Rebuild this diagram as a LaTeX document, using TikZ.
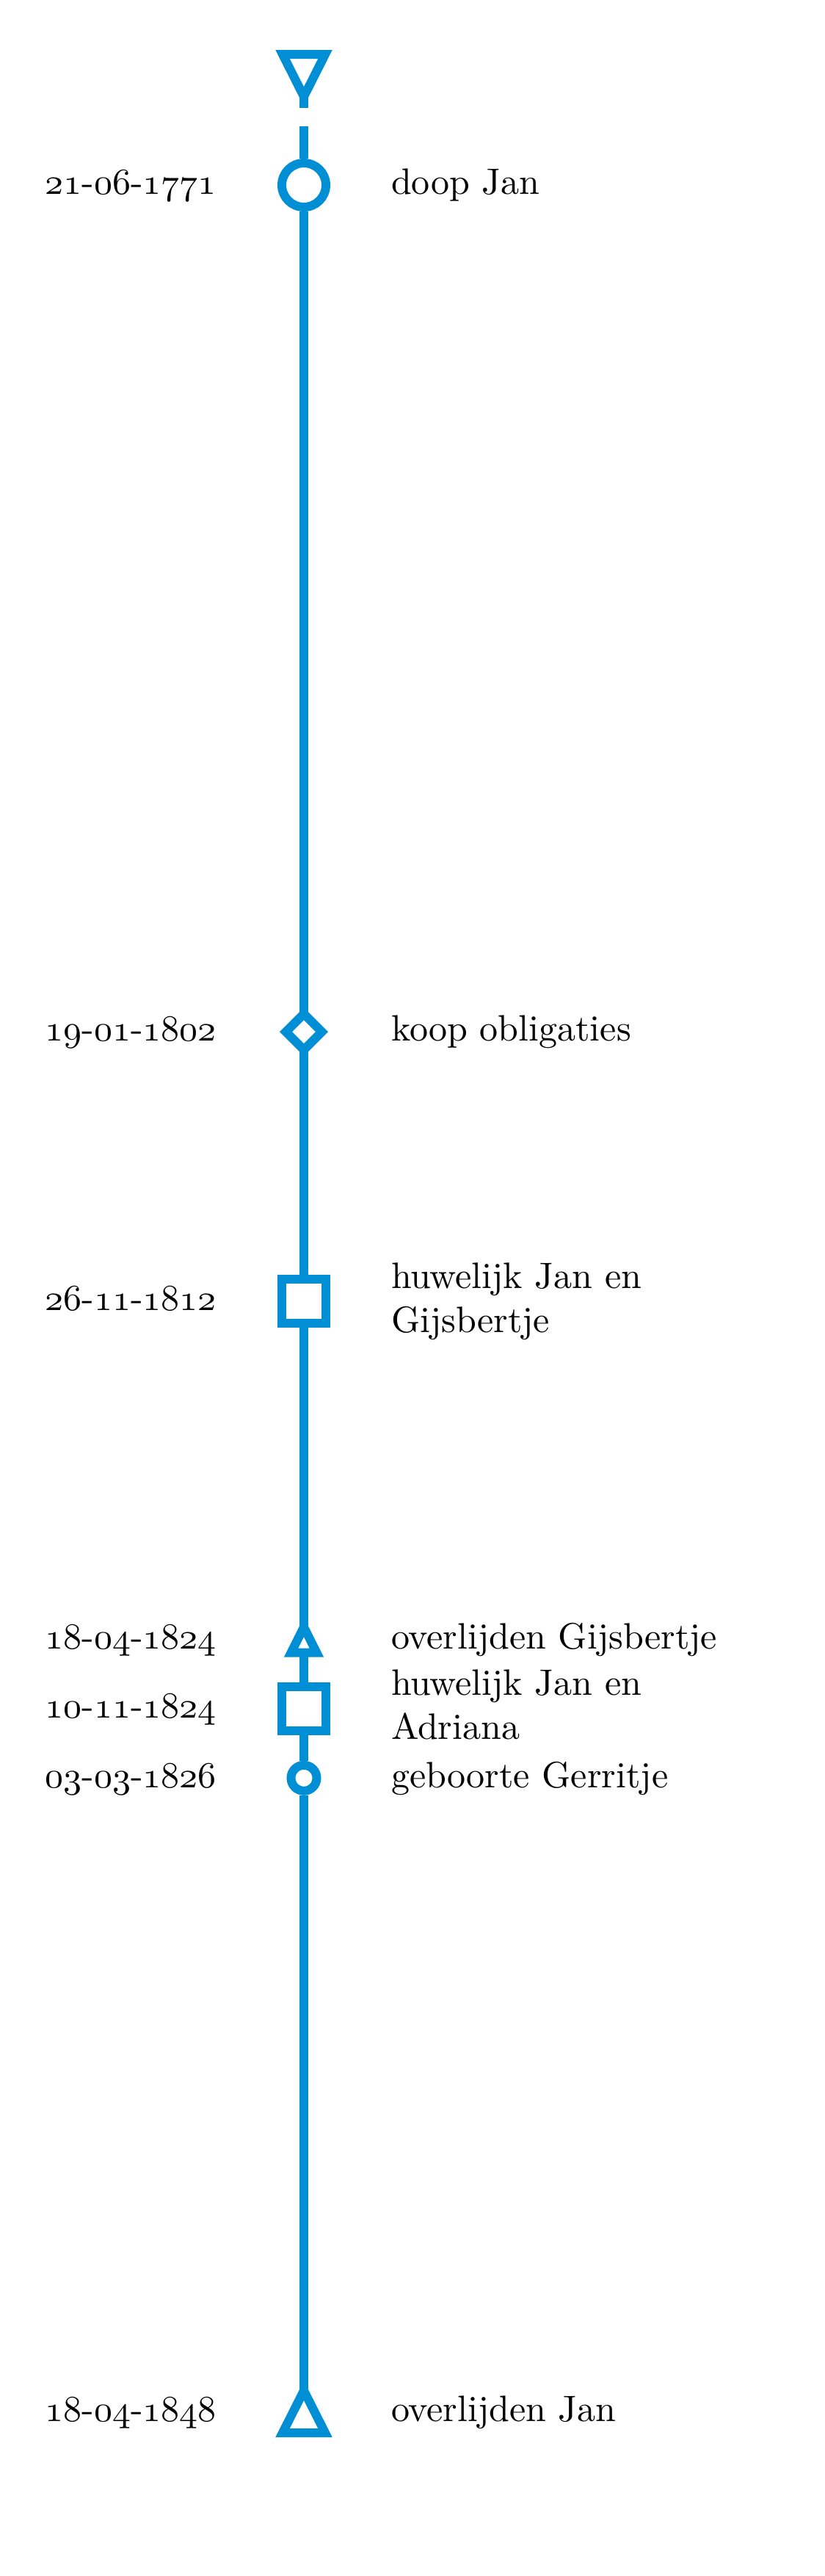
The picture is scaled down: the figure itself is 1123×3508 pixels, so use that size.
\documentclass[tikz,border=0pt]{standalone}
\usetikzlibrary{shapes.geometric}
\definecolor{tlblue}{RGB}{0,143,213}
\DeclareFontFamily{OML}{osnum}{\skewchar\font127 }
\DeclareFontShape{OML}{osnum}{m}{it}{<->cmmi10}{}
\newcommand\osn[1]{{\usefont{OML}{osnum}{m}{it}#1}}
\tikzset{
  tl/.style={draw=tlblue, line width=2.4pt, line cap=butt},
  evt/.style={tl, fill=white, inner sep=0pt},
  datelbl/.style={anchor=base east, inner sep=0pt, text=black},
  evtlbl/.style={anchor=base west, inner sep=0pt, align=left, text=black}
}
\begin{document}
\begin{tikzpicture}[x=0.2pt, y=-0.2pt]
\useasboundingbox (0,0) rectangle (1123,3508);
% top marker
\draw[tl, fill=white] (385,74) -- (443,74) -- (414,131.5) -- cycle;
\coordinate (t1apex) at (414,131.5);
\coordinate (t1stem) at (414,147);
\coordinate (s0) at (414,172);
% event marks
\node[evt, circle, minimum size=12pt] (c1) at (414,252) {};
\draw[tl, fill=white] (414,1380.5) -- (438.5,1405) -- (414,1429.5) -- (389.5,1405) -- cycle;
\coordinate (dmtop) at (414,1380.5);
\coordinate (dmbot) at (414,1429.5);
\node[evt, rectangle, minimum size=12pt] (sq1) at (414,1771.5) {};
\draw[tl, fill=white] (414,2215.7) -- (431.5,2250.7) -- (396.5,2250.7) -- cycle;
\coordinate (t2apex) at (414,2215.7);
\coordinate (t2base) at (414,2250.7);
\node[evt, rectangle, minimum size=12pt] (sq2) at (414,2327) {};
\node[evt, circle, minimum size=7pt] (c2) at (414,2421.3) {};
\draw[tl, fill=white] (414,3255.5) -- (443,3313) -- (385,3313) -- cycle;
\coordinate (t3apex) at (414,3255.5);
% connectors
\draw[tl] (t1apex) -- (t1stem);
\draw[tl] (s0) -- (c1);
\draw[tl] (c1) -- (dmtop);
\draw[tl] (dmbot) -- (sq1);
\draw[tl] (sq1) -- (t2apex);
\draw[tl] (t2base) -- (sq2);
\draw[tl] (sq2) -- (c2);
\draw[tl] (c2) -- (t3apex);
% dates
\node[datelbl] (d1) at (296,264.5) {\osn{21}-\osn{06}-\osn{1771}};
\node[datelbl] (d2) at (296,1417.5) {\osn{19}-\osn{01}-\osn{1802}};
\node[datelbl] (d3) at (296,1784) {\osn{26}-\osn{11}-\osn{1812}};
\node[datelbl] (d4) at (296,2245.7) {\osn{18}-\osn{04}-\osn{1824}};
\node[datelbl] (d5) at (296,2339.3) {\osn{10}-\osn{11}-\osn{1824}};
\node[datelbl] (d6) at (296,2434) {\osn{03}-\osn{03}-\osn{1826}};
\node[datelbl] (d7) at (296,3297) {\osn{18}-\osn{04}-\osn{1848}};
% labels
\node[evtlbl] (l1) at (532,264.5) {doop Jan};
\node[evtlbl] (l2) at (532,1417.5) {koop obligaties};
\node[evtlbl] (l3) at (532,1814) {huwelijk Jan en\\Gijsbertje};
\node[evtlbl] (l4) at (532,2245.7) {overlijden Gijsbertje};
\node[evtlbl] (l5) at (532,2368.3) {huwelijk Jan en\\Adriana};
\node[evtlbl] (l6) at (532,2434) {geboorte Gerritje};
\node[evtlbl] (l7) at (532,3297) {overlijden Jan};
\end{tikzpicture}
\end{document}
